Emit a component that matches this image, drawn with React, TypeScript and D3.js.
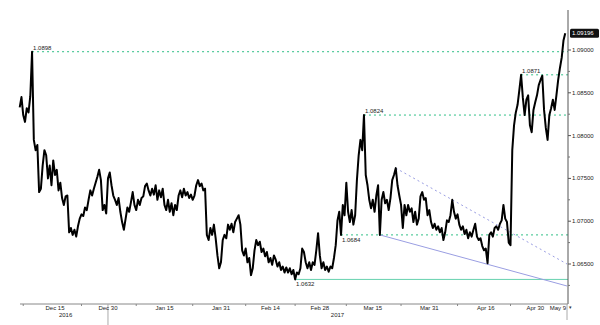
import React from "react";
import * as d3 from "d3";

// ---- data (12-hour samples) ----
const START = new Date(2016, 11, 5);
const END = new Date(2017, 4, 9);
const STEP_HOURS = 12;

const PRICES: number[] = [
  1.0833, 1.0845, 1.0824, 1.0816, 1.0832, 1.0827, 1.0846, 1.0898, 1.0795, 1.0783,
  1.0789, 1.0734, 1.0738, 1.0765, 1.0783, 1.0777, 1.0750, 1.0765, 1.0742, 1.0771,
  1.0754, 1.0760, 1.0736, 1.0745, 1.0727, 1.0719, 1.0729, 1.0730, 1.0687, 1.0692,
  1.0684, 1.0690, 1.0682, 1.0694, 1.0703, 1.0708, 1.0706, 1.0716, 1.0713, 1.0725,
  1.0736, 1.0730, 1.0738, 1.0745, 1.0752, 1.0760, 1.0748, 1.0713, 1.0719, 1.0709,
  1.0750, 1.0757, 1.0742, 1.0730, 1.0725, 1.0719, 1.0727, 1.0711, 1.0699, 1.0690,
  1.0703, 1.0716, 1.0711, 1.0722, 1.0734, 1.0719, 1.0713, 1.0725, 1.0719, 1.0727,
  1.0729, 1.0741, 1.0744, 1.0736, 1.0730, 1.0738, 1.0731, 1.0742, 1.0725, 1.0736,
  1.0728, 1.0738, 1.0719, 1.0713, 1.0725, 1.0711, 1.0721, 1.0707, 1.0719, 1.0713,
  1.0730, 1.0736, 1.0728, 1.0738, 1.0730, 1.0734, 1.0727, 1.0731, 1.0725, 1.0730,
  1.0742, 1.0748, 1.0741, 1.0744, 1.0736, 1.0738, 1.0684, 1.0678, 1.0692, 1.0684,
  1.0696, 1.0680, 1.0660, 1.0645, 1.0652, 1.0678, 1.0684, 1.0680, 1.0696, 1.0690,
  1.0697, 1.0687, 1.0699, 1.0703, 1.0707, 1.0696, 1.0666, 1.0660, 1.0668, 1.0652,
  1.0657, 1.0637, 1.0645, 1.0666, 1.0678, 1.0672, 1.0676, 1.0664, 1.0668, 1.0659,
  1.0664, 1.0652, 1.0657, 1.0649, 1.0660, 1.0655, 1.0647, 1.0652, 1.0643, 1.0647,
  1.0640, 1.0646, 1.0640, 1.0645, 1.0638, 1.0643, 1.0632, 1.0640, 1.0638, 1.0645,
  1.0668, 1.0664, 1.0652, 1.0645, 1.0652, 1.0643, 1.0652, 1.0649, 1.0666, 1.0686,
  1.0660, 1.0645, 1.0652, 1.0643, 1.0647, 1.0641, 1.0647, 1.0645, 1.0657, 1.0672,
  1.0701, 1.0711, 1.0684, 1.0719, 1.0707, 1.0745, 1.0711, 1.0699, 1.0713, 1.0696,
  1.0707, 1.0748, 1.0777, 1.0795, 1.0783, 1.0824, 1.0754, 1.0742, 1.0725, 1.0715,
  1.0725, 1.0711, 1.0730, 1.0742, 1.0684, 1.0725, 1.0734, 1.0721, 1.0725, 1.0713,
  1.0727, 1.0748, 1.0754, 1.0762, 1.0742, 1.0730, 1.0719, 1.0692, 1.0719, 1.0707,
  1.0719, 1.0711, 1.0715, 1.0699, 1.0711, 1.0696, 1.0703, 1.0729, 1.0734, 1.0725,
  1.0727, 1.0707, 1.0713, 1.0699, 1.0692, 1.0697, 1.0690, 1.0694, 1.0687, 1.0692,
  1.0678, 1.0687, 1.0701, 1.0699, 1.0707, 1.0725, 1.0711, 1.0703, 1.0708, 1.0696,
  1.0690, 1.0694, 1.0685, 1.0690, 1.0680, 1.0687, 1.0682, 1.0690, 1.0697, 1.0682,
  1.0678, 1.0680, 1.0671, 1.0666, 1.0668, 1.0651, 1.0684, 1.0687, 1.0682, 1.0692,
  1.0694, 1.0690, 1.0697, 1.0701, 1.0719, 1.0703, 1.0699, 1.0675, 1.0672, 1.0783,
  1.0812, 1.0827, 1.0836, 1.0853, 1.0871, 1.0844, 1.0824, 1.0842, 1.0847, 1.0812,
  1.0804, 1.0830, 1.0839, 1.0847, 1.0859, 1.0865, 1.0870, 1.0830, 1.0809, 1.0795,
  1.0824, 1.0832, 1.0842, 1.0830, 1.0847, 1.0865, 1.0879, 1.0891, 1.0911, 1.09196,
];

// horizontal levels: value, index of the point where it starts
const LEVEL_VALUES = [1.0898, 1.0871, 1.0824, 1.0684, 1.0632];
const LEVEL_START_INDEX = [7, 284, 195, 182, 156];
const LEVEL_DASHED = [true, true, true, true, false];
const LEVEL_LABEL_BELOW = [false, false, false, true, true];

// trend lines
const TREND_SOLID = { startIndex: 204, startValue: 1.0684, endValue: 1.06243 };
const TREND_DASHED = { startIndex: 213, startValue: 1.0762, endValue: 1.0650 };

const X_TICK_LABELS = ["Dec 15", "Dec 30", "Jan 15", "Jan 31", "Feb 14", "Feb 28", "Mar 15", "Mar 31", "Apr 16", "Apr 30", "May 9"];
const X_TICK_DATES = [
  new Date(2016, 11, 15), new Date(2016, 11, 30), new Date(2017, 0, 15), new Date(2017, 0, 31),
  new Date(2017, 1, 14), new Date(2017, 1, 28), new Date(2017, 2, 15), new Date(2017, 2, 31),
  new Date(2017, 3, 16), new Date(2017, 3, 30), new Date(2017, 4, 9),
];
const YEAR_LABELS = ["2016", "2017"];
const YEAR_DATES = [new Date(2016, 11, 18), new Date(2017, 2, 5)];

const Y_TICKS = [1.065, 1.07, 1.075, 1.08, 1.085, 1.09];
const Y_MINOR = [1.0625, 1.0675, 1.0725, 1.0775, 1.0825, 1.0875];

const FONT = "'Liberation Sans', Arial, sans-serif";

export default function App() {
  const W = 600, H = 325;
  const x = d3.scaleTime().domain([START, END]).range([19.7, 567]);
  const y = d3.scaleLinear().domain([1.065, 1.09]).range([264, 50]);
  const axisX = 568;
  const axisY = 304;
  const dateAt = (i: number) => d3.timeHour.offset(START, i * STEP_HOURS);

  const line = d3.line<number>()
    .x((_, i) => x(dateAt(i)))
    .y((d) => y(d));

  const fmt = d3.format(".5f");
  const fmt4 = d3.format(".4f");

  const minorX: Date[] = [new Date(2016, 11, 6)];
  for (let k = 0; k < X_TICK_DATES.length - 2; k++) {
    const a = X_TICK_DATES[k].getTime(), b = X_TICK_DATES[k + 1].getTime();
    minorX.push(new Date((a + b) / 2));
  }

  const lastVal = PRICES[PRICES.length - 1];

  return (
    <svg width={W} height={H} style={{ position: "absolute", left: 0, top: 0, background: "#fff" }}>
      {/* levels */}
      {LEVEL_VALUES.map((v, k) => {
        const x0 = x(dateAt(LEVEL_START_INDEX[k]));
        const yy = y(v);
        return (
          <g key={"lv" + k}>
            <line x1={x0} x2={axisX} y1={yy} y2={yy}
              stroke={LEVEL_DASHED[k] ? "#2fbf86" : "#66d1ae"}
              strokeWidth={1}
              strokeDasharray={LEVEL_DASHED[k] ? "2 3" : undefined} />
            <text x={x0 + 1} y={LEVEL_LABEL_BELOW[k] ? yy + 7 : yy - 2}
              fontSize={6} fontFamily={FONT} fill="#222">{fmt4(v)}</text>
          </g>
        );
      })}

      {/* trend lines */}
      <line x1={x(dateAt(TREND_SOLID.startIndex))} y1={y(TREND_SOLID.startValue)}
        x2={x(END)} y2={y(TREND_SOLID.endValue)} stroke="#9a9ee2" strokeWidth={1} />
      <line x1={x(dateAt(TREND_DASHED.startIndex))} y1={y(TREND_DASHED.startValue)}
        x2={x(END)} y2={y(TREND_DASHED.endValue)} stroke="#9a9ee2" strokeWidth={1} strokeDasharray="2 3" />

      {/* price line */}
      <path d={line(PRICES) || ""} fill="none" stroke="#000" strokeWidth={2} strokeLinejoin="round" />

      {/* right axis */}
      <line x1={axisX} x2={axisX} y1={10} y2={axisY} stroke="#555" strokeWidth={1} />
      {Y_TICKS.map((t) => (
        <g key={"yt" + t}>
          <line x1={axisX} x2={axisX + 3} y1={y(t)} y2={y(t)} stroke="#555" />
          <text x={axisX + 4} y={y(t) + 2} fontSize={6} fontFamily={FONT} fill="#222">{fmt(t)}</text>
        </g>
      ))}
      {Y_MINOR.map((t) => (
        <line key={"ym" + t} x1={axisX} x2={axisX + 2} y1={y(t)} y2={y(t)} stroke="#777" />
      ))}
      {/* last price badge */}
      <rect x={axisX + 2} y={y(lastVal) - 4.5} width={29} height={9} rx={1.5} fill="#111" />
      <text x={axisX + 4} y={y(lastVal) + 2} fontSize={6} fontFamily={FONT} fill="#fff">{fmt(lastVal)}</text>

      {/* bottom axis */}
      <line x1={20} x2={axisX} y1={axisY} y2={axisY} stroke="#888" strokeWidth={1} />
      {minorX.map((d, k) => (
        <line key={"mx" + k} x1={x(d)} x2={x(d)} y1={axisY} y2={axisY + 2} stroke="#888" />
      ))}
      <line x1={x(X_TICK_DATES[1])} x2={x(X_TICK_DATES[1])} y1={axisY} y2={H} stroke="#aaa" />
      <line x1={axisX - 1} x2={axisX - 1} y1={axisY} y2={320} stroke="#aaa" />
      <text x={axisX + 1} y={309} fontSize={5} fontFamily={FONT} fill="#333">▾</text>
      {X_TICK_LABELS.map((lab, k) => {
        const last = k === X_TICK_LABELS.length - 1;
        return (
          <text key={"xl" + k} x={last ? x(X_TICK_DATES[k]) - 1 : x(X_TICK_DATES[k])} y={310}
            textAnchor={last ? "end" : "middle"} fontSize={6} fontFamily={FONT} fill="#222">{lab}</text>
        );
      })}
      {YEAR_LABELS.map((lab, k) => (
        <text key={"yl" + k} x={x(YEAR_DATES[k])} y={316.5} textAnchor="middle"
          fontSize={6} fontFamily={FONT} fill="#222">{lab}</text>
      ))}
    </svg>
  );
}
